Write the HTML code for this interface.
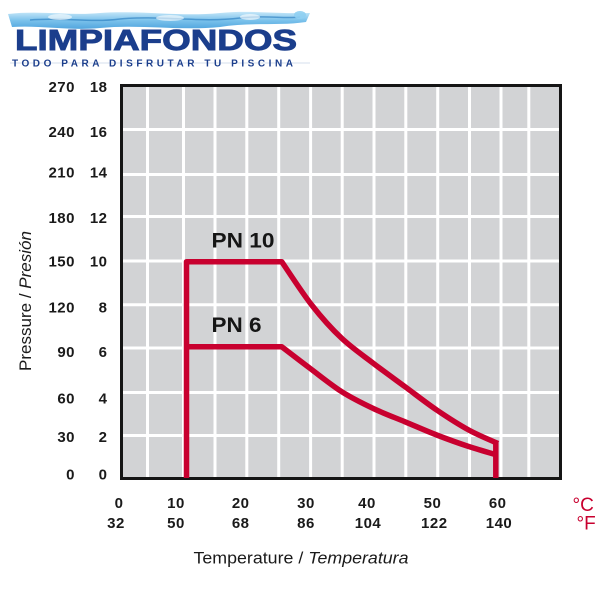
<!DOCTYPE html>
<html>
<head>
<meta charset="utf-8">
<style>
html,body{margin:0;padding:0;background:#fff;}
svg{display:block;}
text{font-family:"Liberation Sans",sans-serif;}
</style>
</head>
<body>
<svg width="600" height="600" viewBox="0 0 600 600" xmlns="http://www.w3.org/2000/svg">
  <defs>
    <linearGradient id="wg" x1="0" y1="0" x2="0" y2="1">
      <stop offset="0" stop-color="#bfe4f8"/>
      <stop offset="0.5" stop-color="#6dbbe9"/>
      <stop offset="1" stop-color="#3f9cdb"/>
    </linearGradient>
  </defs>
  <rect width="600" height="600" fill="#fff"/>

  <!-- Logo water splash -->
  <path d="M8,14 C40,10 70,16 100,13 C140,10 180,17 220,13 C250,10 280,14 310,13 L306,22 C280,26 250,22 220,27 C180,31 140,24 100,28 C70,31 40,25 12,27 Z" fill="url(#wg)" opacity="0.9"/>
  <path d="M30,20 C60,17 90,23 120,19 C160,15 200,23 240,18 C265,15 285,19 300,17" stroke="#2378bd" stroke-width="1.5" fill="none" opacity="0.6"/>
  <ellipse cx="60" cy="17" rx="12" ry="3" fill="#ffffff" opacity="0.6"/>
  <ellipse cx="170" cy="18" rx="14" ry="3" fill="#ffffff" opacity="0.6"/>
  <ellipse cx="250" cy="17" rx="10" ry="3" fill="#ffffff" opacity="0.6"/>
  <ellipse cx="300" cy="15" rx="6" ry="4" fill="#8fcff2" opacity="0.9"/>

  <!-- Logo text -->
  <text x="15" y="50" font-size="29" font-weight="bold" fill="#1b3e8c" stroke="#1b3e8c" stroke-width="0.9" textLength="282" lengthAdjust="spacingAndGlyphs">LIMPIAFONDOS</text>
  <line x1="10" y1="63" x2="310" y2="63" stroke="#c9d4e6" stroke-width="0.8"/>
  <text x="12" y="66.7" font-size="10" font-weight="bold" fill="#1b3e8c" textLength="281" lengthAdjust="spacing">TODO PARA DISFRUTAR TU PISCINA</text>

  <!-- Chart frame -->
  <rect x="121.5" y="85.5" width="439" height="393" fill="#d2d3d5" stroke="#151515" stroke-width="3"/>

  <!-- Vertical grid lines -->
  <g stroke="#ffffff" stroke-width="3">
    <line x1="147.5" y1="87" x2="147.5" y2="477"/>
    <line x1="183.5" y1="87" x2="183.5" y2="477"/>
    <line x1="215" y1="87" x2="215" y2="477"/>
    <line x1="246.8" y1="87" x2="246.8" y2="477"/>
    <line x1="278.7" y1="87" x2="278.7" y2="477"/>
    <line x1="310.6" y1="87" x2="310.6" y2="477"/>
    <line x1="342.2" y1="87" x2="342.2" y2="477"/>
    <line x1="374" y1="87" x2="374" y2="477"/>
    <line x1="405.8" y1="87" x2="405.8" y2="477"/>
    <line x1="437.7" y1="87" x2="437.7" y2="477"/>
    <line x1="469.5" y1="87" x2="469.5" y2="477"/>
    <line x1="501" y1="87" x2="501" y2="477"/>
    <line x1="528.8" y1="87" x2="528.8" y2="477"/>
  </g>
  <!-- Horizontal grid lines -->
  <g stroke="#ffffff" stroke-width="3">
    <line x1="123" y1="129.5" x2="559" y2="129.5"/>
    <line x1="123" y1="174.5" x2="559" y2="174.5"/>
    <line x1="123" y1="216.5" x2="559" y2="216.5"/>
    <line x1="123" y1="261" x2="559" y2="261"/>
    <line x1="123" y1="304.8" x2="559" y2="304.8"/>
    <line x1="123" y1="348" x2="559" y2="348"/>
    <line x1="123" y1="392.5" x2="559" y2="392.5"/>
    <line x1="123" y1="435.5" x2="559" y2="435.5"/>
  </g>

  <!-- Red curves -->
  <g stroke="#c8002f" stroke-width="5.5" fill="none" stroke-linejoin="round">
    <path d="M186.5,478 V261.7 H281.7
             C286.7,268.9 301.7,292.2 311.7,305
             C321.7,317.8 331.4,328.6 341.7,338.3
             C352,348 362.75,355.2 373.3,363.3
             C383.85,371.4 394.4,378.9 405,386.7
             C415.6,394.5 426.1,402.8 436.7,410
             C447.3,417.2 458.5,424.4 468.7,430
             C478.9,435.6 493.1,441.25 498,443.5"/>
    <path d="M186.5,346.7 H281.7
             C286.4,350.3 300,360.8 310,368.3
             C320,375.8 331.15,385 341.7,391.7
             C352.25,398.4 362.75,403.5 373.3,408.5
             C383.85,413.5 394.4,417.4 405,421.8
             C415.6,426.2 426.1,430.9 436.7,435
             C447.3,439.1 458.65,443.2 468.7,446.5
             C478.75,449.8 492.3,453.6 497,455"/>
    <line x1="495.8" y1="441" x2="495.8" y2="478"/>
  </g>

  <!-- PN labels -->
  <text x="211.5" y="247.5" font-size="21" font-weight="bold" fill="#151515" textLength="63" lengthAdjust="spacingAndGlyphs">PN 10</text>
  <text x="211.5" y="332" font-size="21" font-weight="bold" fill="#151515" textLength="50" lengthAdjust="spacingAndGlyphs">PN 6</text>

  <!-- Y labels -->
  <g font-size="15" font-weight="bold" fill="#1a1a1a" text-anchor="end" letter-spacing="0.5">
    <text x="75" y="92">270</text>
    <text x="75" y="137">240</text>
    <text x="75" y="177.5">210</text>
    <text x="75" y="223">180</text>
    <text x="75" y="266.5">150</text>
    <text x="75" y="312.5">120</text>
    <text x="75" y="357">90</text>
    <text x="75" y="403.5">60</text>
    <text x="75" y="442">30</text>
    <text x="75" y="479.5">0</text>

    <text x="107.5" y="92">18</text>
    <text x="107.5" y="137">16</text>
    <text x="107.5" y="177.5">14</text>
    <text x="107.5" y="223">12</text>
    <text x="107.5" y="266.5">10</text>
    <text x="107.5" y="312.5">8</text>
    <text x="107.5" y="357">6</text>
    <text x="107.5" y="403.5">4</text>
    <text x="107.5" y="442">2</text>
    <text x="107.5" y="479.5">0</text>
  </g>

  <!-- X labels -->
  <g font-size="15" font-weight="bold" fill="#1a1a1a" text-anchor="middle" letter-spacing="0.5">
    <text x="119" y="508">0</text>
    <text x="176" y="508">10</text>
    <text x="240.7" y="508">20</text>
    <text x="306" y="508">30</text>
    <text x="367" y="508">40</text>
    <text x="432.5" y="508">50</text>
    <text x="497.7" y="508">60</text>

    <text x="116" y="528">32</text>
    <text x="176" y="528">50</text>
    <text x="240.7" y="528">68</text>
    <text x="306" y="528">86</text>
    <text x="368" y="528">104</text>
    <text x="434.3" y="528">122</text>
    <text x="499" y="528">140</text>
  </g>

  <!-- Units -->
  <text x="572.5" y="511" font-size="19" fill="#c8002f">°C</text>
  <text x="576.5" y="529.5" font-size="19" fill="#c8002f">°F</text>

  <!-- Axis titles -->
  <text x="193.5" y="563.5" font-size="17" fill="#1a1a1a" textLength="215" lengthAdjust="spacingAndGlyphs">Temperature / <tspan font-style="italic">Temperatura</tspan></text>
  <text transform="translate(31,371) rotate(-90)" x="0" y="0" font-size="16.5" fill="#1a1a1a" textLength="140" lengthAdjust="spacingAndGlyphs">Pressure / <tspan font-style="italic">Presión</tspan></text>
</svg>
</body>
</html>
